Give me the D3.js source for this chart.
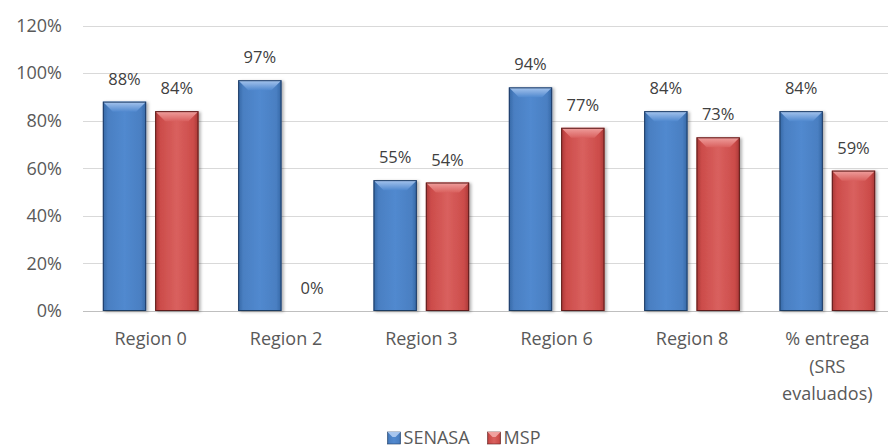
<!DOCTYPE html>
<html lang="en">
<head>
<meta charset="UTF-8">
<title>SENASA vs MSP</title>
<script src="https://d3js.org/d3.v7.min.js"></script>
<style>
  body { margin: 0; background: #fff; }
  svg text { font-family: "Open Sans", sans-serif; }
  .grid line { stroke: #d9d9d9; stroke-width: 1px; }
  .grid .zero { stroke: #bfbfbf; }
  .ylab { fill: #595959; font-size: 18px; }
  .xlab { fill: #595959; font-size: 18px; }
  .vlab { fill: #404040; font-size: 16.5px; }
  .legend text { fill: #595959; font-size: 18px; }
</style>
</head>
<body>
<div id="chart"></div>
<script>
const categories = ["Region 0", "Region 2", "Region 3", "Region 6", "Region 8", "% entrega (SRS evaluados)"];
const seriesNames = ["SENASA", "MSP"];
const senasa = [0.88, 0.97, 0.55, 0.94, 0.84, 0.84];
const msp = [0.84, 0.00, 0.54, 0.77, 0.73, 0.59];
const yTicks = [0, 0.2, 0.4, 0.6, 0.8, 1.0, 1.2];

const width = 888, height = 448;
const plot = { left: 83, right: 895, top: 25.5, bottom: 311 };

const colors = {
    SENASA: { light: "#a8c6ee", mid: "#5189cf", body: "#4a7fc2", dark: "#3567a5", edge: "#1f3c64" },
    MSP:    { light: "#f0a19f", mid: "#d9605e", body: "#cc4c4a", dark: "#a93836", edge: "#5e1d1c" }
};

const rows = categories.map((c, i) => ({ cat: c, values: [
    { key: "SENASA", v: senasa[i] },
    { key: "MSP", v: msp[i] }
]}));

const svg = d3.select("#chart").append("svg")
    .attr("width", width)
    .attr("height", height);

const defs = svg.append("defs");
seriesNames.forEach(s => {
    const c = colors[s];
    const g1 = defs.append("linearGradient").attr("id", "body-" + s)
        .attr("x1", 0).attr("x2", 1).attr("y1", 0).attr("y2", 0);
    g1.append("stop").attr("offset", "0%").attr("stop-color", c.dark);
    g1.append("stop").attr("offset", "12%").attr("stop-color", c.body);
    g1.append("stop").attr("offset", "50%").attr("stop-color", c.mid);
    g1.append("stop").attr("offset", "88%").attr("stop-color", c.body);
    g1.append("stop").attr("offset", "100%").attr("stop-color", c.dark);
    const g2 = defs.append("linearGradient").attr("id", "top-" + s)
        .attr("x1", 0).attr("x2", 0).attr("y1", 0).attr("y2", 1);
    g2.append("stop").attr("offset", "0%").attr("stop-color", c.light);
    g2.append("stop").attr("offset", "100%").attr("stop-color", c.mid);
});
const shadow = defs.append("filter").attr("id", "shadow")
    .attr("x", "-20%").attr("y", "-20%").attr("width", "150%").attr("height", "150%");
shadow.append("feDropShadow").attr("dx", 2).attr("dy", 1).attr("stdDeviation", 1.5)
    .attr("flood-color", "#000").attr("flood-opacity", 0.3);

const x0 = d3.scaleBand()
    .domain(categories)
    .range([plot.left, plot.right]);

const x1 = d3.scaleBand()
    .domain(seriesNames)
    .range([0, x0.bandwidth()])
    .paddingInner(0.172)
    .paddingOuter(0.379);

const y = d3.scaleLinear()
    .domain([0, 1.2])
    .range([plot.bottom, plot.top]);

// gridlines
const grid = svg.append("g").attr("class", "grid");
grid.selectAll("line")
    .data(yTicks)
    .enter().append("line")
    .attr("class", d => d === 0 ? "zero" : null)
    .attr("x1", plot.left)
    .attr("x2", plot.right)
    .attr("y1", d => Math.round(y(d)) + 0.5)
    .attr("y2", d => Math.round(y(d)) + 0.5);

// y axis labels
const yAxis = d3.axisLeft(y).tickValues(yTicks).tickFormat(d3.format(".0%")).tickSize(0).tickPadding(0);
const yg = svg.append("g")
    .attr("transform", `translate(${plot.left - 21},0)`)
    .call(yAxis);
yg.select(".domain").remove();
yg.selectAll("text").attr("class", "ylab").attr("font-size", null).attr("font-family", null);

// bars
const groups = svg.selectAll(".cat")
    .data(rows)
    .enter().append("g")
    .attr("class", "cat")
    .attr("transform", d => `translate(${x0(d.cat)},0)`);

const bars = groups.selectAll(".bar")
    .data(d => d.values.filter(v => v.v > 0))
    .enter().append("g")
    .attr("class", "bar")
    .attr("filter", "url(#shadow)");

bars.each(function(d) {
    const g = d3.select(this);
    const bx = x1(d.key), bw = x1.bandwidth();
    const top = y(d.v), h = y(0) - y(d.v);
    const b = Math.min(10, h / 2);
    g.append("rect")
        .attr("x", bx).attr("y", top)
        .attr("width", bw).attr("height", h)
        .attr("fill", `url(#body-${d.key})`);
    g.append("polygon")
        .attr("points", [[bx, top], [bx + bw, top], [bx + bw - b, top + b], [bx + b, top + b]].join(" "))
        .attr("fill", `url(#top-${d.key})`);
    g.append("rect")
        .attr("x", bx + 0.5).attr("y", top + 0.5)
        .attr("width", bw - 1).attr("height", h - 1)
        .attr("fill", "none")
        .attr("stroke", colors[d.key].edge)
        .attr("stroke-width", 1);
});

// value labels
groups.selectAll(".vlab")
    .data(d => d.values)
    .enter().append("text")
    .attr("class", "vlab")
    .attr("text-anchor", "middle")
    .attr("x", d => x1(d.key) + x1.bandwidth() / 2)
    .attr("y", d => y(d.v) - 17)
    .text(d => d3.format(".0%")(d.v));

// category labels
const xl = svg.selectAll(".xlab")
    .data(categories)
    .enter().append("text")
    .attr("class", "xlab")
    .attr("text-anchor", "middle")
    .attr("x", d => x0(d) + x0.bandwidth() / 2)
    .attr("y", 345);

xl.each(function(d) {
    const t = d3.select(this);
    const words = d.split(" ");
    let line = [], lines = [];
    const probe = t.append("tspan");
    words.forEach(w => {
        line.push(w);
        probe.text(line.join(" "));
        if (probe.node().getComputedTextLength() > x0.bandwidth() * 0.8 && line.length > 1) {
            line.pop();
            lines.push(line.join(" "));
            line = [w];
        }
    });
    lines.push(line.join(" "));
    probe.remove();
    lines.forEach((l, i) => {
        t.append("tspan")
            .attr("x", x0(d) + x0.bandwidth() / 2)
            .attr("dy", i === 0 ? 0 : 27.5)
            .text(l);
    });
});

// legend
const legend = svg.append("g").attr("class", "legend");
let lx = 0;
seriesNames.forEach(s => {
    const item = legend.append("g").attr("transform", `translate(${lx},0)`);
    item.append("rect")
        .attr("x", 0).attr("y", -12).attr("width", 13).attr("height", 12)
        .attr("fill", `url(#body-${s})`)
        .attr("stroke", colors[s].edge).attr("stroke-width", 0.6);
    item.append("polygon")
        .attr("points", [[0, -12], [13, -12], [8, -7], [5, -7]].join(" "))
        .attr("fill", colors[s].light);
    const t = item.append("text").attr("x", 16).attr("y", 0).text(s);
    lx += 16 + t.node().getComputedTextLength() + 18;
});
const lw = lx - 18;
legend.attr("transform", `translate(${464 - lw / 2},444)`);
</script>
</body>
</html>
